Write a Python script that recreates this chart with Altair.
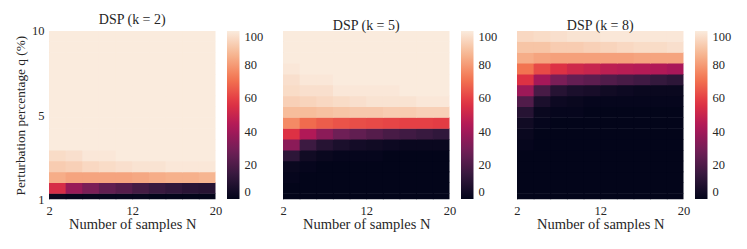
import altair as alt
import pandas as pd

FONT = "Liberation Serif, DejaVu Serif, serif"
TEXT = "#262626"

# x: 10 columns, N = 2, 4, ..., 20 ; y: 16 rows of q (bottom -> top)
N_values = [2, 4, 6, 8, 10, 12, 14, 16, 18, 20]
x_tick_pos = [0, 5, 10]
x_tick_labels = ["2", "12", "20"]
y_tick_pos = [0, 7.75, 15.5]
y_tick_labels = ["1", "5", "10"]

titles = ["DSP (k = 2)", "DSP (k = 5)", "DSP (k = 8)"]

# success rate (%), rows listed from bottom (lowest q) to top
dsp_k2 = [
    [2, 1, 1, 1, 1, 1, 0, 0, 0, 0],
    [54, 38, 31, 25, 22, 18, 15, 13, 11, 10],
    [84, 82, 82, 82, 82, 83, 84, 85, 85, 86],
    [92, 93, 95, 96, 97, 98, 98, 99, 99, 99],
    [96, 97, 99, 99, 100, 100, 100, 100, 100, 100],
    [100, 100, 100, 100, 100, 100, 100, 100, 100, 100],
    [100, 100, 100, 100, 100, 100, 100, 100, 100, 100],
    [100, 100, 100, 100, 100, 100, 100, 100, 100, 100],
    [100, 100, 100, 100, 100, 100, 100, 100, 100, 100],
    [100, 100, 100, 100, 100, 100, 100, 100, 100, 100],
    [100, 100, 100, 100, 100, 100, 100, 100, 100, 100],
    [100, 100, 100, 100, 100, 100, 100, 100, 100, 100],
    [100, 100, 100, 100, 100, 100, 100, 100, 100, 100],
    [100, 100, 100, 100, 100, 100, 100, 100, 100, 100],
    [100, 100, 100, 100, 100, 100, 100, 100, 100, 100],
    [100, 100, 100, 100, 100, 100, 100, 100, 100, 100],
]

dsp_k5 = [
    [0, 0, 0, 0, 0, 0, 0, 0, 0, 0],
    [0, 0, 0, 0, 0, 0, 0, 0, 0, 0],
    [1, 0, 0, 0, 0, 0, 0, 0, 0, 0],
    [2, 1, 0, 0, 0, 0, 0, 0, 0, 0],
    [12, 4, 2, 1, 1, 1, 0, 0, 0, 0],
    [35, 16, 10, 7, 5, 4, 3, 2, 2, 2],
    [56, 44, 35, 28, 25, 22, 19, 17, 15, 13],
    [76, 69, 66, 64, 63, 62, 61, 60, 60, 59],
    [88, 88, 89, 90, 91, 91, 92, 92, 93, 93],
    [93, 94, 95, 96, 97, 98, 98, 98, 99, 99],
    [96, 97, 97, 99, 99, 99, 99, 100, 100, 100],
    [97, 99, 99, 100, 100, 100, 100, 100, 100, 100],
    [99, 100, 100, 100, 100, 100, 100, 100, 100, 100],
    [100, 100, 100, 100, 100, 100, 100, 100, 100, 100],
    [100, 100, 100, 100, 100, 100, 100, 100, 100, 100],
    [100, 100, 100, 100, 100, 100, 100, 100, 100, 100],
]

dsp_k8 = [
    [0, 0, 0, 0, 0, 0, 0, 0, 0, 0],
    [0, 0, 0, 0, 0, 0, 0, 0, 0, 0],
    [0, 0, 0, 0, 0, 0, 0, 0, 0, 0],
    [0, 0, 0, 0, 0, 0, 0, 0, 0, 0],
    [0, 0, 0, 0, 0, 0, 0, 0, 0, 0],
    [1, 0, 0, 0, 0, 0, 0, 0, 0, 0],
    [2, 0, 0, 0, 0, 0, 0, 0, 0, 0],
    [4, 1, 0, 0, 0, 0, 0, 0, 0, 0],
    [10, 2, 1, 1, 0, 0, 0, 0, 0, 0],
    [21, 7, 3, 2, 1, 1, 1, 1, 1, 1],
    [39, 19, 10, 7, 6, 4, 3, 2, 2, 2],
    [56, 41, 31, 26, 24, 21, 19, 17, 14, 12],
    [71, 62, 56, 52, 50, 47, 46, 45, 44, 42],
    [84, 82, 81, 81, 81, 81, 81, 82, 82, 82],
    [90, 90, 92, 92, 93, 94, 95, 96, 96, 97],
    [95, 96, 97, 98, 98, 99, 99, 99, 99, 99],
]

# "rocket"-like colormap stops
rocket_stops = [0, 14.29, 28.57, 42.86, 57.14, 71.43, 85.71, 100]
rocket_colors = ["#03051a", "#35193e", "#701f57", "#ad1759",
                 "#e13342", "#f37651", "#f6b48f", "#faebdd"]
legend_values = [0, 20, 40, 60, 80, 100]


def label_expr(pos, labels):
    expr = "'" + labels[-1] + "'"
    for p, l in reversed(list(zip(pos[:-1], labels[:-1]))):
        expr = "datum.value == %s ? '%s' : %s" % (p, l, expr)
    return expr


def panel(rows, title, first):
    recs = []
    for r, row in enumerate(rows):
        for c, v in enumerate(row):
            recs.append({"c": c, "r": r, "N": N_values[c], "v": v})
    df = pd.DataFrame(recs)

    cscale = alt.Scale(domain=rocket_stops, range=rocket_colors, interpolate="rgb")

    x = alt.X(
        "x0:Q",
        scale=alt.Scale(domain=[0, 10], nice=False, zero=False),
        axis=alt.Axis(values=x_tick_pos, labelExpr=label_expr(x_tick_pos, x_tick_labels),
                      title="Number of samples N", ticks=False, domain=False, grid=False,
                      labelPadding=5, titlePadding=1, labelFlush=False,
                      labelFontSize=12.5, titleFontSize=14.5, labelColor=TEXT, titleColor=TEXT,
                      titleFontWeight="normal"),
    )
    if first:
        yaxis = alt.Axis(values=y_tick_pos, labelExpr=label_expr(y_tick_pos, y_tick_labels),
                         title="Perturbation percentage q (%)", ticks=False, domain=True,
                         domainColor="#c8c8c8", domainWidth=1, grid=False,
                         labelPadding=5, titlePadding=4, labelFlush=False,
                         labelFontSize=12.5, titleFontSize=13.3, labelColor=TEXT, titleColor=TEXT,
                         titleFontWeight="normal")
    else:
        yaxis = alt.Axis(labels=False, title=None, ticks=False, domain=True,
                         domainColor="#c8c8c8", domainWidth=1, grid=False)
    y = alt.Y("y0:Q", scale=alt.Scale(domain=[0, 15.5], nice=False, zero=False), axis=yaxis)

    chart = (
        alt.Chart(df)
        .transform_calculate(x0="datum.c", x1="datum.c + 1.05",
                             y0="datum.r - 0.5", y1="datum.r + 0.55")
        .mark_rect(clip=True)
        .encode(
            x=x,
            x2="x1:Q",
            y=y,
            y2="y1:Q",
            color=alt.Color("v:Q", scale=cscale, title=None,
                            legend=alt.Legend(type="gradient", values=legend_values,
                                              gradientLength=168, gradientThickness=12.5,
                                              offset=11, padding=0,
                                              labelOffset=5, labelFontSize=12.5,
                                              labelBaseline="middle",
                                              labelColor=TEXT, direction="vertical",
                                              orient="right", gradientStrokeWidth=0)),
        )
        .properties(width=166.5, height=168.3,
                    title=alt.TitleParams(title, fontSize=14, font=FONT, fontWeight="normal",
                                          color=TEXT, offset=-2, frame="group"))
    )
    return chart


charts = [panel(d, t, i == 0) for i, (d, t) in enumerate(zip([dsp_k2, dsp_k5, dsp_k8], titles))]

chart = (
    alt.hconcat(*charts, spacing=15)
    .resolve_scale(color="independent")
    .properties(padding={"left": 5, "right": 5, "top": 5, "bottom": 5})
    .configure(font=FONT)
    .configure_view(strokeWidth=0)
    .configure_legend(labelFont=FONT)
    .configure_axis(labelFont=FONT, titleFont=FONT)
)

chart.save("out.html", embed_options={"renderer": "svg", "actions": False})
